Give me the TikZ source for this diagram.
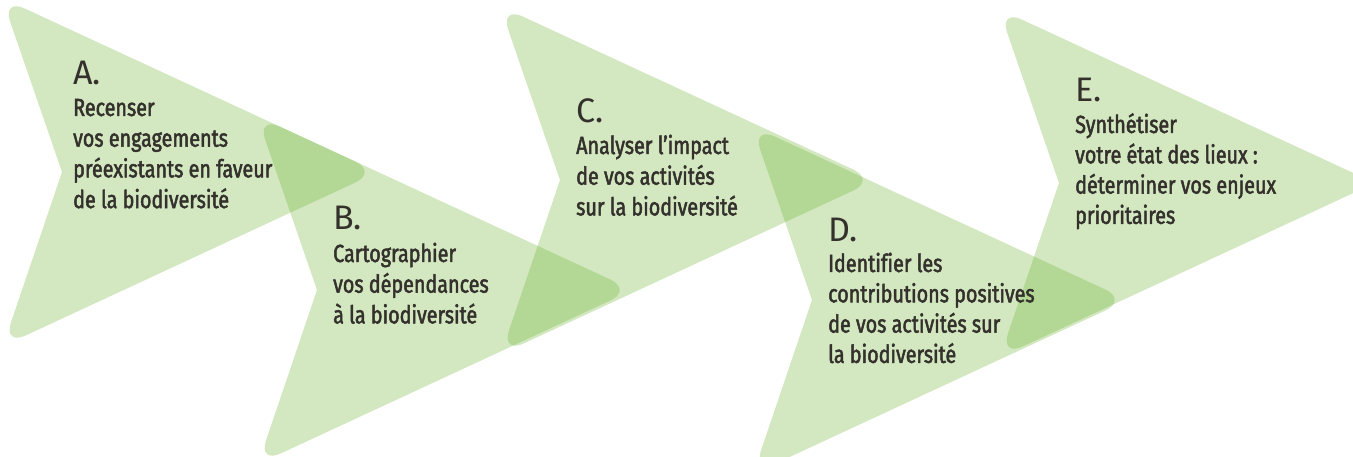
\documentclass[tikz,border=0pt]{standalone}
\usepackage{fontspec}
\setmainfont{Fira Sans}[FakeStretch=0.8, FakeBold=2, Ligatures=NoCommon]
\newfontfamily\letterfont{Fira Sans}
\definecolor{chevgreen}{RGB}{108,178,48}
\definecolor{textcol}{RGB}{52,48,44}
\tikzset{
  chev/.style={fill=chevgreen, fill opacity=0.3, draw=none},
  letter/.style={anchor=base west, inner sep=0pt, text=textcol, font=\letterfont\fontsize{34}{34}\selectfont},
  bodyline/.style={anchor=base west, inner sep=0pt, text=textcol, font=\fontsize{24.7}{30}\selectfont}
}
\newcommand{\chevshape}[2]{%
  \path[chev] ({#1+62},{#2+172}) [rounded corners=25pt] -- ({#1+2},{#2-2}) -- ({#1+378},{#2+172}) -- ({#1+3},{#2+346}) -- ({#1+62},{#2+172});}
\begin{document}
\begin{tikzpicture}[x=1pt,y=-1pt]
\useasboundingbox (0,0) rectangle (1353,457);
\chevshape{0}{0}
\chevshape{255}{118}
\chevshape{498}{8}
\chevshape{750}{128}
\chevshape{997}{11}
% A
\node[letter] (la) at (73,85) {A.};
\foreach \t [count=\i] in {Recenser,vos engagements,préexistants en faveur,de la biodiversité}
  \node[bodyline] (ta\i) at (73,{116+30.7*(\i-1)}) {\t};
% B
\node[letter] (lb) at (333,230) {B.};
\foreach \t [count=\i] in {Cartographier,vos dépendances,à la biodiversité}
  \node[bodyline] (tb\i) at (333,{262+30.7*(\i-1)}) {\t};
% C
\node[letter] (lc) at (576,123) {C.};
\foreach \t [count=\i] in {Analyser l’impact,de vos activités,sur la biodiversité}
  \node[bodyline] (tc\i) at (576,{154+30.7*(\i-1)}) {\t};
% D
\node[letter] (ld) at (828,242) {D.};
\foreach \t [count=\i] in {Identifier les,contributions positives,de vos activités sur,la biodiversité}
  \node[bodyline] (td\i) at (828,{272+30.3*(\i-1)}) {\t};
% E
\node[letter] (le) at (1075,102) {E.};
\foreach \t [count=\i] in {Synthétiser,votre état des lieux :,déterminer vos enjeux,prioritaires}
  \node[bodyline] (te\i) at (1075,{133+30.3*(\i-1)}) {\t};
\end{tikzpicture}
\end{document}
